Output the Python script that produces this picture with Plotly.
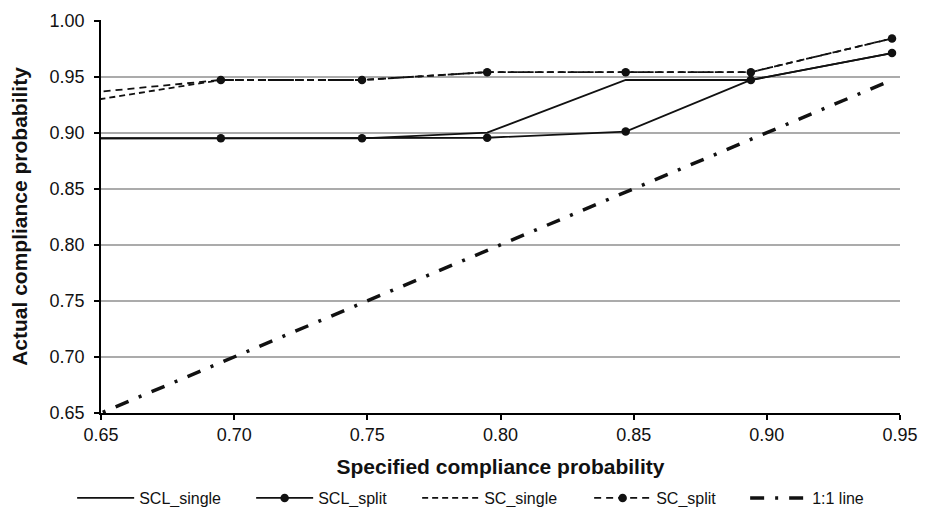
import plotly.graph_objects as go

# Specified compliance probability (first point lies just left of the visible axis range)
x_spec = [0.642, 0.695, 0.748, 0.795, 0.847, 0.894, 0.947]

# Actual compliance probability per method
scl_single = [0.895, 0.895, 0.895, 0.900, 0.947, 0.947, 0.971]
scl_split = [0.895, 0.895, 0.895, 0.8955, 0.901, 0.947, 0.971]
sc_single = [0.927, 0.947, 0.947, 0.954, 0.954, 0.954, 0.984]
sc_split = [0.9348, 0.947, 0.947, 0.954, 0.954, 0.954, 0.984]
one_to_one = [0.642, 0.695, 0.748, 0.795, 0.847, 0.894, 0.947]

series_names = ["SCL_single", "SCL_split", "SC_single", "SC_split", "1:1 line"]

x_ticks = [0.65, 0.70, 0.75, 0.80, 0.85, 0.90, 0.95]
y_ticks = [0.65, 0.70, 0.75, 0.80, 0.85, 0.90, 0.95, 1.00]

FONT = "Liberation Sans, Arial, sans-serif"
INK = "#111111"

# The page body has an 8px default margin, so the figure is sized to fit inside it.
W, H = 923, 499

fig = go.Figure()

fig.add_trace(go.Scatter(
    x=x_spec, y=scl_single, name=series_names[0], mode="lines",
    line=dict(color=INK, width=1.8), legendwidth=107))
fig.add_trace(go.Scatter(
    x=x_spec, y=scl_split, name=series_names[1], mode="lines+markers",
    line=dict(color=INK, width=1.8),
    marker=dict(symbol="circle", size=8.5, color=INK), legendwidth=94))
fig.add_trace(go.Scatter(
    x=x_spec, y=sc_single, name=series_names[2], mode="lines",
    line=dict(color=INK, width=1.8, dash="6px,4px"), legendwidth=100))
fig.add_trace(go.Scatter(
    x=x_spec, y=sc_split, name=series_names[3], mode="lines+markers",
    line=dict(color=INK, width=1.8, dash="7px,5px"),
    marker=dict(symbol="circle", size=8.5, color=INK), legendwidth=84))
fig.add_trace(go.Scatter(
    x=x_spec, y=one_to_one, name=series_names[4], mode="lines",
    line=dict(color=INK, width=3.5, dash="14px,11px,3px,11px"), legendwidth=55))

fig.update_layout(
    width=W, height=H,
    margin=dict(l=93, r=31, t=12, b=94, autoexpand=False),
    paper_bgcolor="white", plot_bgcolor="white",
    font=dict(family=FONT, color=INK),
    showlegend=True,
    legend=dict(
        orientation="h", xref="container", x=0.0695, xanchor="left",
        yref="container", y=0.018, yanchor="middle",
        font=dict(family=FONT, size=16, color=INK),
        itemwidth=57, traceorder="normal",
        bgcolor="rgba(0,0,0,0)",
    ),
    xaxis=dict(
        range=[0.65, 0.95], tickvals=x_ticks, tickformat=".2f",
        showgrid=False, zeroline=False,
        showline=True, linecolor="black", linewidth=1.5,
        ticks="outside", ticklen=5, tickcolor="black", tickwidth=1.5,
        tickfont=dict(family=FONT, size=18, color=INK),
        title=dict(text="<b>Specified compliance probability</b>",
                   font=dict(family=FONT, size=21, color=INK), standoff=15),
    ),
    yaxis=dict(
        range=[0.65, 1.0005], tickvals=y_ticks, tickformat=".2f",
        showgrid=True, gridcolor="#ababab", gridwidth=1.5, zeroline=False,
        showline=True, linecolor="black", linewidth=1.5,
        ticks="outside", ticklen=5, tickcolor="black", tickwidth=1.5,
        ticklabelstandoff=6,
        tickfont=dict(family=FONT, size=18, color=INK),
        title=dict(text="<b>Actual compliance probability</b>",
                   font=dict(family=FONT, size=21, color=INK), standoff=20),
    ),
)

fig.write_html("out.html")
